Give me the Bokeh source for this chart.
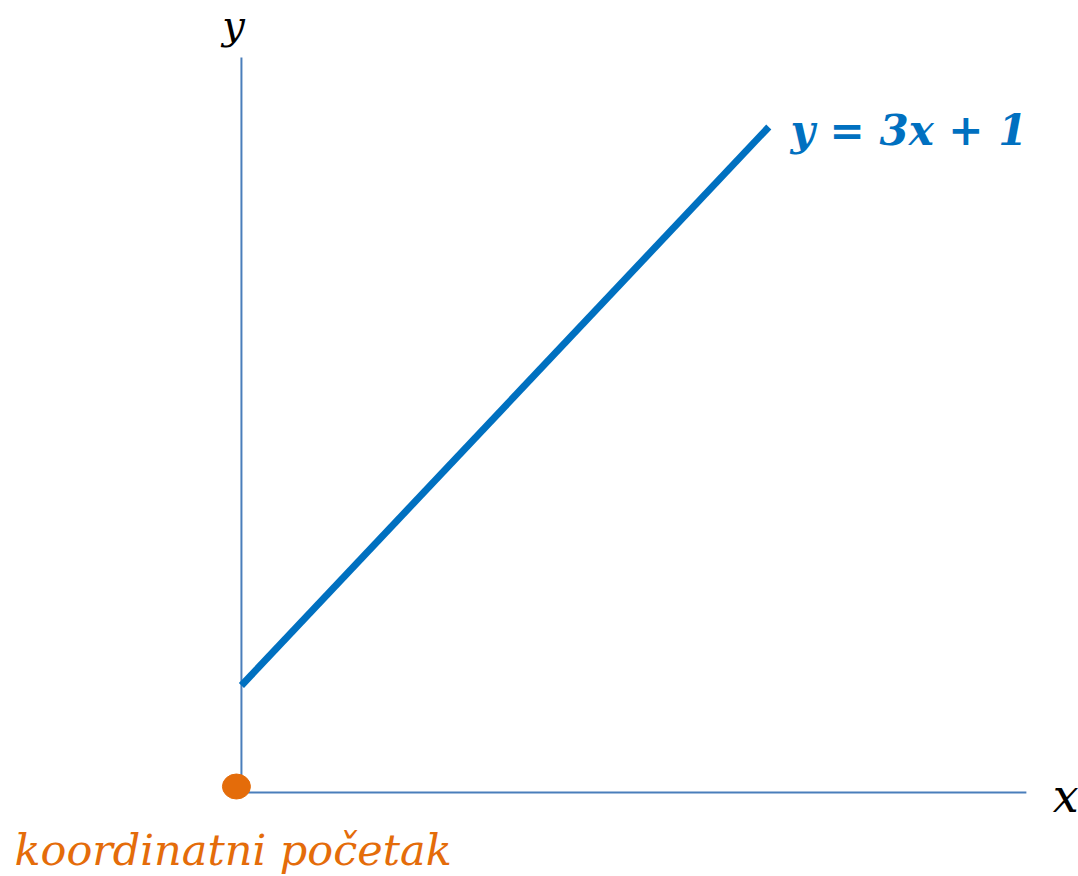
from bokeh.plotting import figure
from bokeh.models import Range1d
from bokeh.core.properties import value
from bokeh.embed import file_html
from bokeh.resources import INLINE

# data
line_x = [0.0, 1.74]
line_y = [1.0, 6.22]
xaxis_x = [0.0, 2.59]
xaxis_y = [0.0, 0.0]
yaxis_x = [0.0, 0.0]
yaxis_y = [0.0, 6.87]
origin_x = [-0.0165]
origin_y = [0.056]
eq_label = ["y = 3x + 1"]
origin_label = ["koordinatni početak"]
x_label = ["x"]
y_label = ["y"]

BLUE = "#0070C0"
AXIS = "#4A7EBB"
ORANGE = "#E46C0A"
SERIF = value("DejaVu Serif")

p = figure(width=1078, height=876, output_backend="svg", toolbar_location=None,
           x_range=Range1d(-0.795, 2.762), y_range=Range1d(-0.785, 7.402),
           min_border=0)
p.axis.visible = False
p.grid.visible = False
p.outline_line_color = None
p.background_fill_color = "white"

p.line(xaxis_x, xaxis_y, line_color=AXIS, line_width=2)
p.line(yaxis_x, yaxis_y, line_color=AXIS, line_width=2)
p.line(line_x, line_y, line_color=BLUE, line_width=7)
p.ellipse(origin_x, origin_y, width=28, height=25, width_units="screen",
          height_units="screen", fill_color=ORANGE, line_color=ORANGE)

p.text(x=[-0.026], y=[7.17], text=y_label, text_font=SERIF, text_font_style="italic",
       text_font_size="40px", text_align="center", text_baseline="middle", text_color="black")
p.text(x=[2.72], y=[-0.03], text=x_label, text_font=SERIF, text_font_style="italic",
       text_font_size="46px", text_align="center", text_baseline="middle", text_color="black")
p.text(x=[-0.749], y=[-0.542], text=origin_label, text_font=SERIF, text_font_style="italic",
       text_font_size="43px", text_align="left", text_baseline="middle", text_color=ORANGE)
p.text(x=[1.812], y=[6.19], text=eq_label, text_font=SERIF, text_font_style="bold italic",
       text_font_size="42px", text_align="left", text_baseline="middle", text_color=BLUE)

open("out.html", "w").write(file_html(p, INLINE))
